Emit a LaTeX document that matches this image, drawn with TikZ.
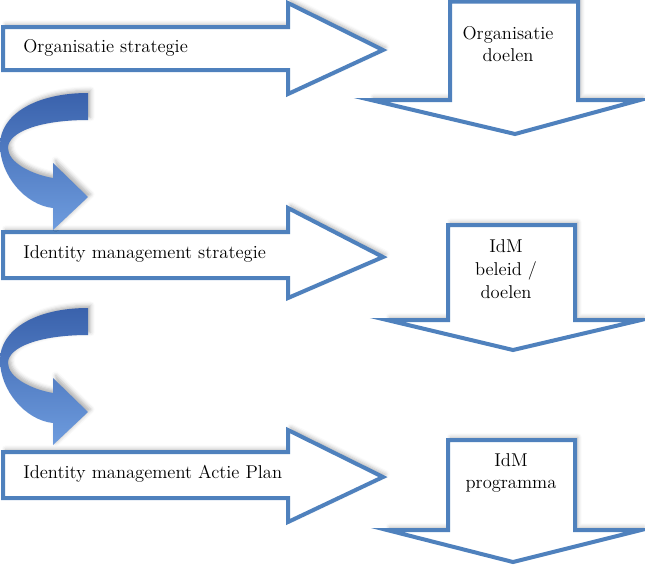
\documentclass[tikz,border=0pt]{standalone}
\usepackage{xcolor}
\usepackage{tikz}
\usetikzlibrary{shadows.blur}

\definecolor{arrowblue}{RGB}{79,129,189}
\definecolor{benddark}{RGB}{58,98,172}
\definecolor{bendlight}{RGB}{110,156,222}

\begin{document}
\begin{tikzpicture}[x=0.75pt,y=0.75pt,yscale=-1,xscale=1,
    blockarrow/.style={draw=arrowblue, line width=3pt, fill=white, line join=miter,
        blur shadow={shadow xshift=2pt, shadow yshift=2pt, shadow blur radius=3pt, shadow opacity=30}},
    bendarrow/.style={top color=benddark, bottom color=bendlight, draw=none,
        blur shadow={shadow xshift=2pt, shadow yshift=2pt, shadow blur radius=3pt, shadow opacity=30}},
    lbl/.style={inner sep=0.75pt, font=\fontsize{13.9}{17}\selectfont},
    dlbl/.style={inner sep=0.75pt, align=center, font=\fontsize{13.9}{17}\selectfont}]
        \useasboundingbox (0,0) rectangle (645,565);
        % horizontal block arrows
        \draw [blockarrow] (3,27) -- (288,27) -- (288,3) -- (383,50) -- (288,94) -- (288,70) -- (3,70) -- cycle ;
        \draw [blockarrow] (3,232) -- (288,232) -- (288,208) -- (383,257) -- (288,298) -- (288,278) -- (3,278) -- cycle ;
        \draw [blockarrow] (3,452) -- (288,452) -- (288,430) -- (383,477) -- (288,522) -- (288,498) -- (3,498) -- cycle ;
        % down block arrows
        \draw [blockarrow] (450,1.5) -- (578,1.5) -- (578,100) -- (640,100) -- (515,134) -- (371,100) -- (450,100) -- cycle ;
        \draw [blockarrow] (448,225) -- (575,225) -- (575,320) -- (641,320) -- (513,350) -- (387,320) -- (448,320) -- cycle ;
        \draw [blockarrow] (448,440) -- (575,440) -- (575,530) -- (641,530) -- (513,562) -- (387,530) -- (448,530) -- cycle ;
        % bent arrows
        \draw [bendarrow] (88,93) .. controls (35,93) and (0,115) .. (0,145) .. controls (0,175) and (25,205) .. (53,208) -- (53,230) -- (88,197) -- (53,163) -- (53,178) .. controls (30,174) and (8,162) .. (8,148) .. controls (8,132) and (40,120) .. (88,120) -- cycle ;
        \draw [bendarrow] (88,308) .. controls (35,308) and (0,330) .. (0,360) .. controls (0,390) and (25,420) .. (53,423) -- (53,445) -- (88,412) -- (53,378) -- (53,393) .. controls (30,389) and (8,377) .. (8,363) .. controls (8,347) and (40,335) .. (88,335) -- cycle ;

        \draw (22,48) node [anchor=west][lbl] (orgstrat) {Organisatie strategie};
        \draw (22,254) node [anchor=west][lbl] (idmstrat) {Identity management strategie};
        \draw (22,474) node [anchor=west][lbl] (idmplan) {Identity management Actie Plan};
        \draw (508,44) node [dlbl] (orgdoel) {Organisatie\\doelen};
        \draw (506,269) node [dlbl] (idmdoel) {IdM\\beleid /\\doelen};
        \draw (511,473) node [dlbl] (idmprog) {IdM\\programma};

    \end{tikzpicture}
\end{document}
